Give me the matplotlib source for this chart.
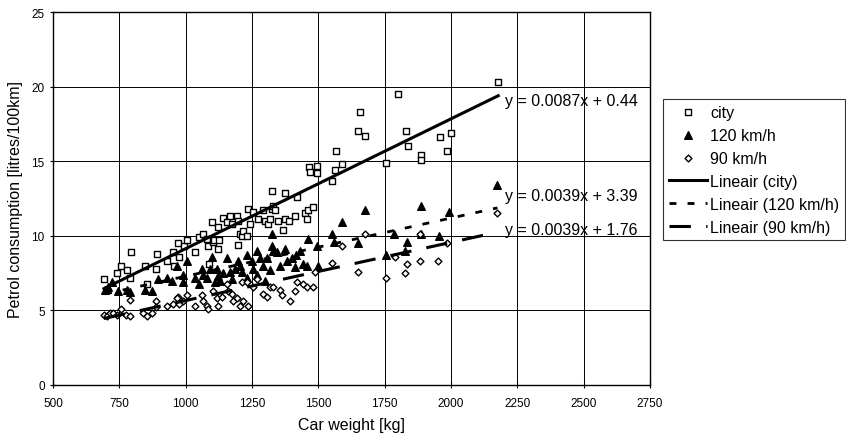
import matplotlib
matplotlib.use('Agg')
import matplotlib.pyplot as plt
import numpy as np
from matplotlib.lines import Line2D

plt.rcParams['font.family'] = ['Liberation Sans', 'DejaVu Sans']

# ---------------- data ----------------
city_x = [692, 741, 756, 779, 794, 790, 847, 888, 892, 854, 930, 953, 956, 971, 994, 1005,
          975, 1035, 1050, 1065, 1081, 1084, 1088, 1103, 1107, 1122, 1126, 1099, 1122, 1141,
          1156, 1167, 1175, 1194, 1198, 1205, 1213, 1217, 1232, 1198, 1235, 1254, 1243, 1273,
          1292, 1300, 1311, 1326, 1330, 1337, 1319, 1349, 1368, 1375, 1390, 1413, 1326, 1375,
          1420, 1450, 1458, 1462, 1481, 1465, 1468, 1495, 1495, 1658, 1650, 1677, 1567, 1590,
          1563, 1552, 1756, 1831, 1839, 1888, 1888, 1960, 1986, 1800, 2178, 2000]
city_y = [7.1, 7.5, 8.0, 7.7, 8.9, 7.2, 8.0, 7.8, 8.8, 6.8, 8.3, 8.9, 8.0, 9.5, 9.3, 9.7,
          8.6, 8.9, 9.9, 10.1, 9.8, 9.3, 8.1, 9.6, 9.7, 9.1, 9.7, 10.9, 10.6, 11.2,
          10.9, 11.3, 10.8, 11.3, 11.0, 10.1, 10.0, 10.3, 10.0, 9.4, 11.8, 11.6, 10.8, 11.1,
          11.7, 11.0, 10.8, 11.8, 12.0, 11.7, 11.1, 11.0, 10.4, 11.1, 11.0, 11.3, 13.0, 12.9,
          12.6, 11.5, 11.1, 11.7, 11.9, 14.6, 14.3, 14.7, 14.2, 18.3, 17.0, 16.7, 15.7, 14.8,
          14.4, 13.7, 14.9, 17.0, 16.0, 15.4, 15.1, 16.6, 15.7, 19.5, 20.3, 16.9]

kmh120_x = [696, 707, 722, 745, 779, 790, 847, 873, 896, 930, 949, 968, 990, 990, 1005,
            1035, 1062, 1065, 1081, 1092, 1099, 1118, 1122, 1130, 1156, 1167, 1186, 1198, 1205,
            1213, 1232, 1251, 1254, 1270, 1281, 1292, 1307, 1319, 1326, 1330, 1345, 1356, 1375,
            1383, 1413, 1417, 1443, 1458, 1462, 1495, 1326, 1499, 1140, 1175, 1110, 1050, 1230,
            1270, 1300, 1400, 1430, 1590, 1677, 1888, 1993, 1552, 1560, 1650, 1786, 1835, 1827,
            1756, 1888, 1956, 2175]
kmh120_y = [6.4, 6.6, 6.9, 6.3, 6.4, 6.2, 6.4, 6.3, 7.1, 7.2, 7.0, 8.0, 7.4, 6.9, 8.3,
            7.2, 7.8, 7.4, 7.2, 7.8, 8.6, 7.8, 7.3, 7.0, 8.5, 7.6, 7.8, 8.3, 8.0,
            7.6, 8.7, 8.3, 7.8, 9.0, 8.5, 8.0, 8.5, 7.7, 9.3, 9.0, 8.9, 8.0, 9.1,
            8.3, 7.9, 8.7, 8.1, 8.0, 9.8, 9.3, 10.1, 8.0, 7.5, 7.1, 6.9, 6.8, 7.2,
            7.4, 7.0, 8.5, 9.0, 10.9, 11.7, 12.0, 11.6, 10.1, 9.6, 9.5, 10.1, 9.6, 9.0,
            8.7, 10.1, 10.0, 13.4]

kmh90_x = [692, 704, 715, 726, 741, 756, 775, 790, 790, 840, 854, 873, 888, 888, 930, 953,
           971, 990, 1005, 968, 975, 1035, 1062, 1065, 1081, 1084, 1103, 1118, 1122, 1137,
           1156, 1160, 1175, 1179, 1194, 1205, 1217, 1235, 1213, 1232, 1254, 1270, 1292, 1307,
           1319, 1330, 1356, 1364, 1394, 1413, 1420, 1443, 1458, 1481, 1488, 1677, 1590, 1884,
           1986, 1552, 1650, 1756, 1790, 1835, 1827, 1884, 1952, 2175]
kmh90_y = [4.7, 4.6, 4.8, 4.8, 4.7, 5.1, 4.7, 4.6, 5.7, 4.8, 4.6, 4.8, 5.6, 5.2, 5.3, 5.4,
           5.9, 5.6, 6.0, 5.8, 5.4, 5.3, 6.0, 5.6, 5.3, 5.1, 6.3, 5.8, 5.3, 5.9,
           6.8, 6.3, 6.1, 5.6, 5.8, 5.3, 5.6, 5.3, 6.9, 6.9, 6.6, 7.1, 6.1, 5.9,
           6.6, 6.6, 6.4, 6.0, 5.6, 6.3, 6.9, 6.8, 6.6, 6.6, 7.6, 10.1, 9.3, 10.1,
           9.5, 8.2, 7.6, 7.2, 8.6, 8.1, 7.5, 8.3, 8.3, 11.5]

# linear trend coefficients (slope, intercept) as printed in the chart
trend_city = (0.0087, 0.44)
trend_120 = (0.0039, 3.39)
trend_90 = (0.0039, 1.76)

labels = ['city', '120 km/h', '90 km/h', 'Lineair (city)', 'Lineair (120 km/h)', 'Lineair (90 km/h)']
x_ticks = [500, 750, 1000, 1250, 1500, 1750, 2000, 2250, 2500, 2750]
y_ticks = [0, 5, 10, 15, 20, 25]

# ---------------- figure ----------------
W, H = 846, 439
fig = plt.figure(figsize=(W / 100, H / 100), dpi=100)
ax = fig.add_axes([53 / W, 53 / H, (650 - 53) / W, (386 - 13) / H])

ax.set_xlim(500, 2750)
ax.set_ylim(0, 25)
ax.set_xticks(x_ticks)
ax.set_yticks(y_ticks)
ax.tick_params(axis='both', labelsize=8.5, direction='inout', length=5, width=0.8, colors='black')
ax.tick_params(axis='x', pad=6)
ax.grid(True, color='black', linewidth=0.7)
ax.set_axisbelow(True)
for s in ax.spines.values():
    s.set_color('black')
    s.set_linewidth(1.0)

sc_city = ax.scatter(city_x, city_y, marker='s', s=24, facecolors='white',
                     edgecolors='black', linewidths=1.0, zorder=3)
sc_120 = ax.scatter(kmh120_x, kmh120_y, marker='^', s=30, color='black', zorder=3)
sc_90 = ax.scatter(kmh90_x, kmh90_y, marker='D', s=12, facecolors='white',
                   edgecolors='black', linewidths=1.0, zorder=3)

def trend(xs, coef):
    xx = np.array([min(xs), max(xs)], dtype=float)
    return xx, coef[0] * xx + coef[1]

xc, yc = trend(city_x, trend_city)
l_city, = ax.plot(xc, yc, color='black', lw=2.2, zorder=4)
x1, y1 = trend(kmh120_x, trend_120)
l_120, = ax.plot(x1, y1, color='black', lw=2.0, dashes=(2.5, 4), zorder=4)
x2, y2 = trend(kmh90_x, trend_90)
l_90, = ax.plot(x2, y2, color='black', lw=2.2, dashes=(7, 5), zorder=4)

eq_kw = dict(fontsize=11.5, va='center', ha='left', zorder=5)
ax.text(2205, 19.1, 'y = 0.0087x + 0.44', **eq_kw)
ax.text(2205, 12.7, 'y = 0.0039x + 3.39', **eq_kw)
ax.text(2205, 10.4, 'y = 0.0039x + 1.76', **eq_kw)

ax.set_xlabel('Car weight [kg]', fontsize=11.5, labelpad=6)
ax.set_ylabel('Petrol consumption [litres/100km]', fontsize=11.5, labelpad=6)

leg = fig.legend([sc_city, sc_120, sc_90, l_city, l_120, l_90], labels,
                 loc='upper left', bbox_to_anchor=(663 / W, 1 - 100 / H),
                 fontsize=11.5, frameon=True, fancybox=False, edgecolor='black',
                 borderaxespad=0, handlelength=2.4, handletextpad=0.2,
                 labelspacing=0.5, borderpad=0.35)
leg.get_frame().set_linewidth(0.8)

fig.savefig('out.png', dpi=100)
